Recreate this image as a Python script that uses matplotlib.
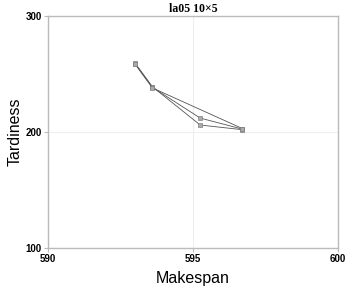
import matplotlib
matplotlib.use("Agg")
import matplotlib.pyplot as plt

# data: three solution paths (makespan, tardiness)
path_a_x = [593.0, 593.6, 595.25, 596.7]
path_a_y = [259.0, 238.5, 212.0, 202.5]
path_b_x = [593.0, 593.6, 595.25, 596.7]
path_b_y = [259.5, 239.0, 206.0, 202.0]
path_c_x = [593.0, 593.6, 596.7]
path_c_y = [258.5, 238.0, 203.0]
xticks = [590, 595, 600]
yticks = [100, 200, 300]

fig = plt.figure(figsize=(3.55, 2.86), dpi=100)
ax = fig.add_axes([48/355, 1-248/286, 290/355, 232/286])
for xs, ys in [(path_a_x, path_a_y), (path_b_x, path_b_y), (path_c_x, path_c_y)]:
    ax.plot(xs, ys, color="#555555", lw=0.6, marker="s", ms=2.5,
            mfc="#aaaaaa", mec="#808080", mew=0.5)
ax.set_xlim(590, 600)
ax.set_ylim(100, 300)
ax.set_xticks(xticks)
ax.set_yticks(yticks)
ax.grid(True, color="#eeeeee", lw=0.8)
ax.set_axisbelow(True)
for s in ax.spines.values():
    s.set_color("#bbbbbb")
    s.set_linewidth(1.0)
ax.tick_params(colors="#bbbbbb", length=3, width=0.8, pad=1.5, labelcolor="black", labelsize=7)
for lbl in ax.get_xticklabels() + ax.get_yticklabels():
    lbl.set_fontweight("bold")
    lbl.set_family("Liberation Sans")
ax.set_xlabel("Makespan", fontsize=11.5, family="Liberation Sans", labelpad=5)
ax.set_ylabel("Tardiness", fontsize=11.5, family="Liberation Sans", labelpad=2)
ax.set_title("la05 10×5", fontsize=8.5, fontweight="bold", family="Liberation Serif", pad=3)
fig.savefig("out.png", dpi=100)
